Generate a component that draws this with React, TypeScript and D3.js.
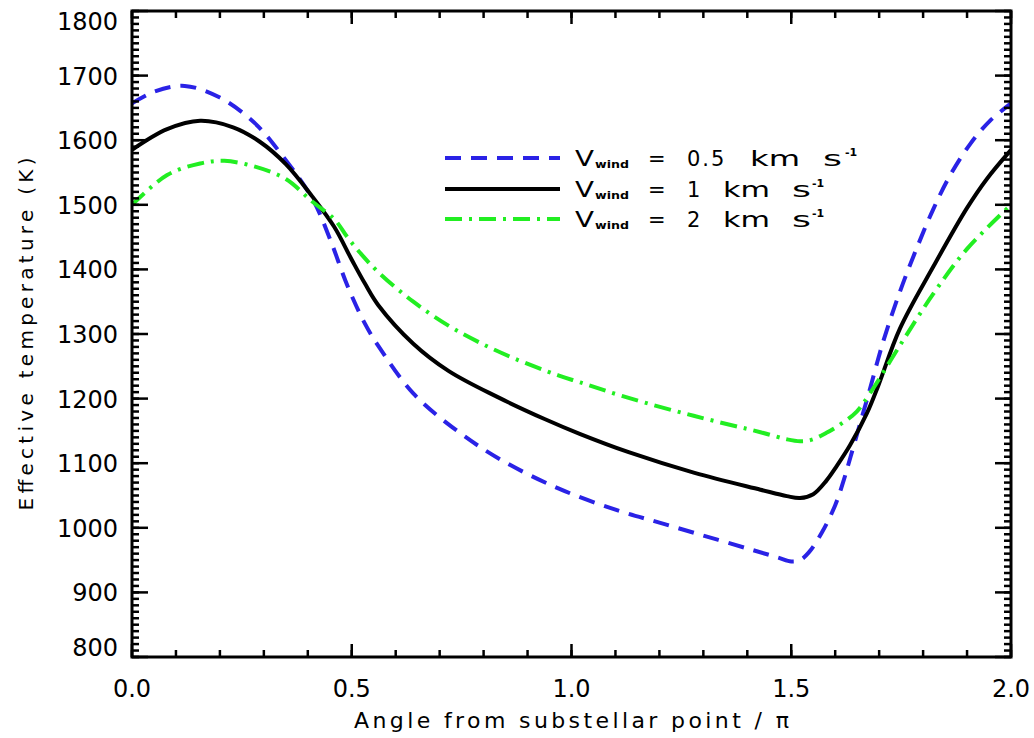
import React from "react";
import * as d3 from "d3";

// ---- data (angle / pi, effective temperature K) ----
const angles05 = [0.0, 0.05, 0.12, 0.2, 0.28, 0.34, 0.41, 0.45, 0.49, 0.53, 0.56, 0.64, 0.74, 0.84, 0.97, 1.1, 1.2, 1.3, 1.4, 1.47, 1.5, 1.52, 1.54, 1.57, 1.6, 1.62, 1.635, 1.656, 1.675, 1.71, 1.747, 1.785, 1.823, 1.861, 1.907, 1.952, 2.0];
const temps05 = [1657, 1675, 1684, 1666, 1626, 1578, 1510, 1448, 1375, 1316, 1282, 1208, 1150, 1105, 1061, 1028, 1008, 988, 968, 954, 948, 950, 962, 993, 1035, 1075, 1110, 1160, 1205, 1290, 1365, 1432, 1493, 1545, 1594, 1630, 1657];

const angles1 = [0.0, 0.08, 0.155, 0.23, 0.29, 0.35, 0.41, 0.46, 0.5, 0.53, 0.56, 0.64, 0.72, 0.83, 0.94, 1.02, 1.13, 1.28, 1.43, 1.49, 1.52, 1.55, 1.58, 1.603, 1.634, 1.672, 1.698, 1.747, 1.823, 1.899, 1.945, 2.0];
const temps1 = [1585, 1617, 1630, 1620, 1598, 1563, 1513, 1466, 1415, 1378, 1345, 1285, 1243, 1203, 1168, 1145, 1117, 1085, 1059, 1049, 1046, 1052, 1073, 1095, 1128, 1177, 1220, 1308, 1404, 1494, 1540, 1585];

const angles2 = [0.0, 0.08, 0.155, 0.21, 0.28, 0.35, 0.41, 0.46, 0.49, 0.52, 0.56, 0.64, 0.72, 0.79, 0.87, 0.97, 1.02, 1.13, 1.28, 1.43, 1.49, 1.52, 1.545, 1.58, 1.618, 1.649, 1.679, 1.747, 1.823, 1.899, 2.0];
const temps2 = [1500, 1546, 1564, 1568, 1559, 1540, 1505, 1478, 1450, 1425, 1396, 1350, 1313, 1287, 1262, 1236, 1225, 1201, 1173, 1148, 1137, 1134, 1136, 1147, 1163, 1180, 1208, 1282, 1362, 1431, 1500];

const xMajorTicks = [0, 0.5, 1.0, 1.5, 2.0];
const xTickLabels = ["0.0", "0.5", "1.0", "1.5", "2.0"];
const yMajorTicks = [800, 900, 1000, 1100, 1200, 1300, 1400, 1500, 1600, 1700, 1800];
const legendValues = ["0.5", "1", "2"];

const series = [
  { angles: angles05, temps: temps05, color: "#2a22e6", dash: "16 10" },
  { angles: angles1, temps: temps1, color: "#000000", dash: "none" },
  { angles: angles2, temps: temps2, color: "#22ee22", dash: "17 7 3 7" },
];

const FONT = "'DejaVu Sans', sans-serif";

export default function App() {
  const W = 1034, H = 738;
  const L = 132, R = 1011, T = 11, B = 657;
  const x = d3.scaleLinear().domain([0, 2]).range([L, R]);
  const y = d3.scaleLinear().domain([800, 1800]).range([B, T]);

  const line = d3
    .line<[number, number]>()
    .x((d) => x(d[0]))
    .y((d) => y(d[1]))
    .curve(d3.curveCatmullRom.alpha(0.5));

  const xMinor = d3.range(0, 2.0001, 0.1);
  const yMinor = d3.range(800, 1800.001, 10);

  const legendRows = [
    { y: 158, km: [750, 50], s: 823, sup: 845 },
    { y: 189, km: [723, 47], s: 792, sup: 812 },
    { y: 219, km: [723, 47], s: 792, sup: 812 },
  ];

  // keep end labels inside the axis range (as the original plot does)
  const yLabelBaseline = (v: number) => {
    if (v === 1800) return y(v) + 19;
    if (v === 800) return y(v) - 1;
    return y(v) + 9;
  };

  return (
    <svg width={W} height={H} style={{ position: "absolute", left: 0, top: 0, background: "#fff" }}>
      <rect x={0} y={0} width={W} height={H} fill="#fff" />
      <defs>
        <clipPath id="plotclip">
          <rect x={L} y={T} width={R - L} height={B - T} />
        </clipPath>
      </defs>

      {/* curves */}
      <g clipPath="url(#plotclip)">
        {series.map((s, i) => (
          <path
            key={i}
            d={line(s.angles.map((a, j) => [a, s.temps[j]] as [number, number])) || ""}
            fill="none"
            stroke={s.color}
            strokeWidth={4}
            strokeDasharray={s.dash}
          />
        ))}
      </g>

      {/* ticks */}
      <g stroke="#000" strokeWidth={2.5}>
        {xMinor.map((v, i) => (
          <g key={"xm" + i}>
            <line x1={x(v)} x2={x(v)} y1={B} y2={B - 7} />
            <line x1={x(v)} x2={x(v)} y1={T} y2={T + 7} />
          </g>
        ))}
        {xMajorTicks.map((v, i) => (
          <g key={"xM" + i}>
            <line x1={x(v)} x2={x(v)} y1={B} y2={B - 13} />
            <line x1={x(v)} x2={x(v)} y1={T} y2={T + 13} />
          </g>
        ))}
        {yMinor.map((v, i) => (
          <g key={"ym" + i}>
            <line x1={L} x2={L + 7} y1={y(v)} y2={y(v)} />
            <line x1={R} x2={R - 7} y1={y(v)} y2={y(v)} />
          </g>
        ))}
        {yMajorTicks.map((v, i) => (
          <g key={"yM" + i}>
            <line x1={L} x2={L + 16} y1={y(v)} y2={y(v)} />
            <line x1={R} x2={R - 16} y1={y(v)} y2={y(v)} />
          </g>
        ))}
      </g>

      {/* frame */}
      <rect x={L} y={T} width={R - L} height={B - T} fill="none" stroke="#000" strokeWidth={3} />

      {/* tick labels */}
      <g fontFamily={FONT} fontSize={24} fill="#000">
        {xMajorTicks.map((v, i) => (
          <text key={"xl" + i} x={x(v)} y={697} textAnchor="middle">
            {xTickLabels[i]}
          </text>
        ))}
        {yMajorTicks.map((v, i) => (
          <text key={"yl" + i} x={118} y={yLabelBaseline(v)} textAnchor="end">
            {v}
          </text>
        ))}
      </g>

      {/* axis titles */}
      <text
        x={(L + R) / 2}
        y={728}
        textAnchor="middle"
        fontFamily={FONT}
        fontSize={22}
        textLength={435}
        lengthAdjust="spacing"
      >
        Angle from substellar point / π
      </text>
      <text
        transform={`translate(33, ${(T + B) / 2}) rotate(-90)`}
        textAnchor="middle"
        fontFamily={FONT}
        fontSize={20}
        textLength={353}
        lengthAdjust="spacing"
      >
        Effective temperature (K)
      </text>

      {/* legend */}
      <g fontFamily={FONT} fill="#000">
        {series.map((s, i) => {
          const r = legendRows[i];
          return (
            <g key={"lg" + i}>
              <line x1={445} x2={560} y1={r.y} y2={r.y} stroke={s.color} strokeWidth={4} strokeDasharray={s.dash} />
              <text x={575} y={r.y + 8} fontSize={21} textLength={19} lengthAdjust="spacingAndGlyphs">V</text>
              <text x={595} y={r.y + 10} fontSize={11} fontWeight="bold" textLength={34} lengthAdjust="spacingAndGlyphs">wind</text>
              <text x={648} y={r.y + 8} fontSize={21}>=</text>
              <text x={687} y={r.y + 8} fontSize={21} letterSpacing={2}>{legendValues[i]}</text>
              <text x={r.km[0]} y={r.y + 8} fontSize={21} textLength={r.km[1]} lengthAdjust="spacingAndGlyphs">km</text>
              <text x={r.s} y={r.y + 8} fontSize={21} textLength={19} lengthAdjust="spacingAndGlyphs">s</text>
              <text x={r.sup} y={r.y - 2} fontSize={11} fontWeight="bold">-1</text>
            </g>
          );
        })}
      </g>
    </svg>
  );
}
